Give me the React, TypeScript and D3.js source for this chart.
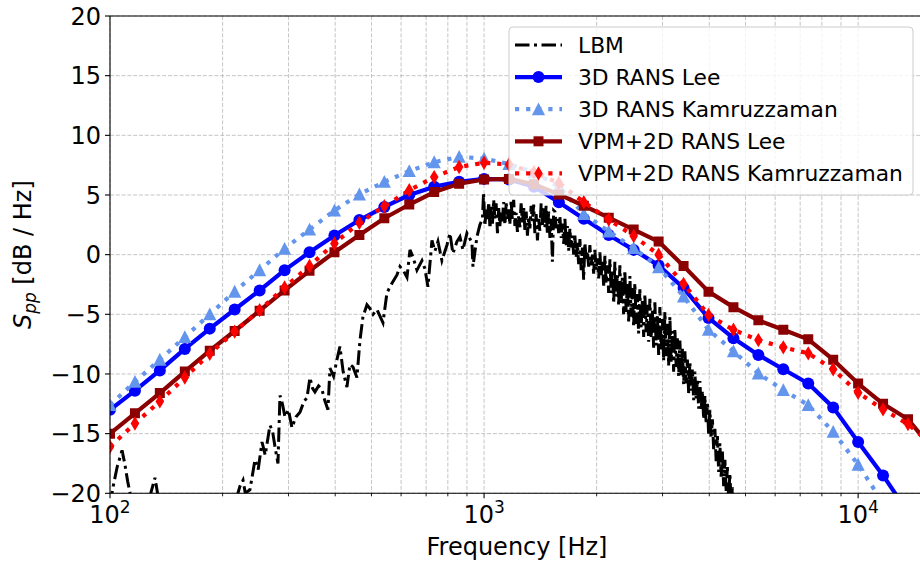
import { Fragment } from "react"
import * as d3 from "d3"

// 1/15-decade band centres used by the model curves
const bandFreq = [
  100, 116.6, 135.9, 158.5, 184.8, 215.4, 251.2, 292.9, 341.5, 398.1, 464.2, 541.2,
  631.0, 735.6, 857.7, 1000, 1165.9, 1359.4, 1584.9, 1847.8, 2154.4, 2511.9, 2928.6,
  3414.5, 3981.1, 4641.6, 5411.7, 6309.6, 7356.4, 8576.9, 10000, 11659, 13594, 15849
]

const rans3dLee = [
  -13.0, -11.4, -9.7, -7.9, -6.2, -4.6, -3.0, -1.3, 0.2, 1.6, 2.9, 4.0, 5.0, 5.7, 6.1,
  6.35, 6.3, 5.7, 4.4, 3.0, 1.65, 0.4, -0.9, -2.8, -5.3, -7.0, -8.4, -9.6, -10.8, -12.8,
  -15.7, -18.5, -21.6, -24.5
]
const rans3dKam = [
  -12.6, -10.65, -8.8, -6.9, -5.0, -3.1, -1.3, 0.5, 2.1, 3.7, 5.05, 6.1, 7.0, 7.75, 8.2,
  8.05, 7.6, 6.9, 5.7, 3.4, 1.95, 0.55, -1.05, -3.5, -6.3, -8.1, -9.95, -11.35, -12.6,
  -14.85, -17.6, -20.8, -24.0, -27.0
]
const vpmLee = [
  -15.0, -13.3, -11.6, -9.8, -8.05, -6.4, -4.7, -3.0, -1.35, 0.2, 1.65, 3.05, 4.2, 5.25,
  5.95, 6.3, 6.35, 5.9, 5.05, 4.1, 3.1, 2.1, 1.1, -0.95, -3.1, -4.4, -5.5, -6.3, -7.1,
  -8.8, -10.8, -12.5, -13.8, -16.3
]
const vpmKam = [
  -16.1, -14.15, -12.3, -10.3, -8.3, -6.45, -4.65, -2.75, -0.95, 0.94, 2.67, 4.05, 5.4,
  6.5, 7.35, 7.7, 7.55, 6.9, 6.0, 4.4, 2.95, 1.56, 0.0, -2.45, -5.05, -6.3, -7.16, -7.77,
  -8.27, -9.6, -11.57, -12.97, -14.2, -16.0
]

// LBM narrow-band spectrum: low band (100 Hz - 1 kHz) ...
const lbmLowFreq = [
  100, 102, 104.5, 107.7, 109.5, 111.5, 114, 118, 124, 128, 131.9, 134, 137, 145, 160, 185,
  205, 215, 222.6, 226.8, 230, 236.7, 244.1, 249, 254.9, 260, 267.7, 272, 276.1, 281.2,
  284.7, 289, 293.6, 300, 306.5, 314, 322, 330, 336.2, 342.4, 348, 353.1, 361, 368.7, 375,
  382.5, 387.3, 396, 404.3, 411.8, 420, 429.9, 438, 446.1, 457.2, 465.8, 474.5, 486.3, 495,
  505, 517.2, 536.7, 550, 567.3, 585, 596, 610, 622.2, 633.8, 645.6, 661.7, 682.3, 695,
  707.9, 725.6, 739, 752.8, 771.5, 795.7, 810.5, 825.6, 846.2, 862, 878, 900, 928.1, 933.9,
  957.2, 974.7
]
const lbmLowDb = [
  -21.0, -19.4, -17.8, -16.4, -17.5, -19.0, -20.5, -22.5, -21.5, -20.2, -18.7, -20.0, -22.0,
  -24.0, -25.0, -24.5, -22.5, -21.0, -19.4, -18.9, -20.0, -19.7, -17.2, -18.0, -15.7, -16.8,
  -14.3, -14.8, -16.1, -17.5, -11.8, -12.5, -13.6, -13.0, -14.5, -13.6, -13.2, -12.3, -12.0,
  -10.3, -11.2, -11.5, -11.0, -11.3, -12.2, -13.0, -9.5, -10.2, -8.8, -7.7, -9.8, -11.1,
  -9.2, -9.4, -10.3, -7.2, -5.2, -4.2, -4.5, -5.0, -4.6, -5.7, -3.2, -2.4, -1.7, -1.0, -1.4,
  -1.9, 0.4, -0.2, -1.3, -0.5, -1.2, -2.7, 1.2, 0.3, 1.1, -0.5, 0.8, 1.8, 0.1, 1.1, 1.5, 0.4,
  1.8, 1.0, -1.0, 1.5, 2.5
]
// ... the peak band (1 - 1.5 kHz) ...
const lbmMidFreq = [
  990, 997, 1005, 1013, 1021, 1029, 1037, 1045, 1053, 1061, 1069, 1077,
  1086, 1094, 1102, 1111, 1119, 1128, 1137, 1146, 1154, 1163, 1172, 1181,
  1190, 1200, 1209, 1218, 1228, 1237, 1247, 1256, 1266, 1276, 1286, 1296,
  1306, 1316, 1326, 1336, 1346, 1357, 1367, 1378, 1389, 1399, 1410, 1421,
  1432, 1443, 1454, 1465, 1477, 1488, 1500, 1511, 1523, 1535
]
const lbmMidDb = [
  3.0, 5.2, 2.4, 3.8, 2.9, 4.4, 2.2, 4.0, 2.6, 4.6, 3.0, 4.3,
  1.8, 3.9, 2.4, 3.7, 2.8, 4.4, 2.5, 4.3, 3.0, 3.8, 2.5, 4.5,
  3.0, 4.6, 2.4, 3.5, 1.9, 3.2, 2.3, 4.3, 2.7, 4.0, 2.0, 3.6,
  1.6, 3.2, 2.2, 4.1, 2.8, 4.2, 1.8, 3.4, 1.2, 3.0, 2.0, 4.3,
  2.5, 3.9, 2.3, 4.1, 1.7, 3.6, 1.4, 3.0, -0.6, 3.7
]
// ... and the dense decaying band (1.5 - 4.8 kHz)
const lbmHighFreq = [
  1547, 1559, 1571, 1583, 1595, 1608, 1620, 1633, 1645, 1658, 1670, 1683,
  1696, 1709, 1722, 1736, 1749, 1763, 1776, 1790, 1804, 1818, 1832, 1846,
  1860, 1875, 1889, 1904, 1918, 1933, 1948, 1963, 1978, 1994, 2009, 2025,
  2040, 2056, 2072, 2088, 2104, 2120, 2137, 2153, 2170, 2187, 2203, 2221,
  2237, 2255, 2272, 2290, 2307, 2325, 2343, 2361, 2379, 2398, 2416, 2435,
  2454, 2473, 2492, 2511, 2530, 2550, 2569, 2589, 2609, 2630, 2650, 2671,
  2691, 2712, 2733, 2754, 2775, 2797, 2818, 2840, 2862, 2884, 2906, 2929,
  2951, 2974, 2997, 3020, 3044, 3067, 3091, 3115, 3139, 3163, 3188, 3212,
  3237, 3262, 3287, 3313, 3338, 3364, 3390, 3416, 3443, 3469, 3496, 3523,
  3550, 3578, 3605, 3633, 3661, 3690, 3718, 3747, 3776, 3805, 3834, 3864,
  3894, 3924, 3954, 3985, 4015, 4046, 4078, 4109, 4141, 4173, 4205, 4238,
  4270, 4303, 4336, 4370, 4404, 4438, 4472, 4506, 4541, 4576, 4611, 4647,
  4683, 4830
]
const lbmHighDb = [
  3.6, 2.2, 3.0, 1.8, 3.2, 1.4, 2.6, 0.9, 3.0, 0.8, 2.4, 0.3,
  2.2, 0.6, 1.6, 0.0, 1.6, -0.2, 1.0, -0.8, 1.3, -1.3, 0.6, -2.1,
  1.0, -0.4, 0.3, -1.0, 0.8, -0.9, 0.0, -1.6, 0.4, -1.3, -0.3, -2.0,
  0.2, -1.8, -0.6, -2.6, -0.1, -2.4, -0.9, -3.2, -0.4, -3.2, -1.3, -4.1,
  -0.6, -3.5, -1.6, -4.3, -0.9, -4.1, -1.9, -5.0, -1.3, -4.8, -2.3, -5.6,
  -1.8, -5.2, -2.8, -6.1, -2.4, -5.8, -3.3, -6.6, -2.9, -6.1, -3.8, -6.9,
  -3.3, -6.5, -4.2, -7.3, -3.7, -7.0, -4.6, -7.8, -4.0, -7.6, -5.0, -8.4,
  -4.4, -8.1, -5.4, -8.9, -4.8, -8.5, -5.8, -9.3, -5.2, -9.0, -6.4, -9.8,
  -6.2, -9.4, -7.0, -10.2, -7.2, -10.1, -7.9, -10.9, -8.1, -10.8, -8.8, -11.6,
  -9.0, -11.4, -9.6, -12.2, -9.8, -12.1, -10.4, -12.9, -10.6, -13.0, -11.4, -13.8,
  -11.8, -14.2, -12.5, -15.1, -13.0, -15.4, -13.8, -16.3, -14.6, -17.3, -15.2, -18.2,
  -15.8, -18.6, -16.5, -19.4, -17.2, -19.8, -17.8, -20.5, -18.3, -21.0, -19.5, -21.5,
  -20.5, -23.0
]

const yTicks = [-20, -15, -10, -5, 0, 5, 10, 15, 20]
const xMajor = [100, 1000, 10000]
const xMinor = [200, 300, 400, 500, 600, 700, 800, 900, 2000, 3000, 4000, 5000, 6000, 7000, 8000, 9000]
const legendLabels = ["LBM", "3D RANS Lee", "3D RANS Kamruzzaman", "VPM+2D RANS Lee", "VPM+2D RANS Kamruzzaman"]

const FONT = "DejaVu Sans, sans-serif"
const LBM_DASH = "14.5 4.5 3 4.5"

function markerPath(kind) {
  if (kind === "circle") return "M6,0A6,6 0 1,1 -6,0A6,6 0 1,1 6,0Z"
  if (kind === "triangle") return "M0,-6.8L6.6,6L-6.6,6Z"
  if (kind === "square") return "M-5,-5H5V5H-5Z"
  if (kind === "diamond") return "M0,-7.2L4.3,0L0,7.2L-4.3,0Z"
  return ""
}

const series = [
  { label: legendLabels[1], values: rans3dLee, color: "#0000ff", dotted: false, marker: "circle" },
  { label: legendLabels[2], values: rans3dKam, color: "#6495ed", dotted: true, marker: "triangle" },
  { label: legendLabels[3], values: vpmLee, color: "#8b0000", dotted: false, marker: "square" },
  { label: legendLabels[4], values: vpmKam, color: "#ff0000", dotted: true, marker: "diamond" }
]

function lineProps(s) {
  return s.dotted
    ? { stroke: s.color, strokeWidth: 4.2, strokeDasharray: "4.2 6.9", fill: "none" }
    : { stroke: s.color, strokeWidth: 4.2, fill: "none", strokeLinejoin: "round" as const }
}

export default function App() {
  const W = 920
  const H = 565
  const left = 110
  const top = 16
  const right = 924
  const bottom = 493.3

  const x = d3.scaleLog().domain([100, 15000]).range([left, right])
  const y = d3.scaleLinear().domain([-20, 20]).range([bottom, top])

  const line = d3.line<[number, number]>().x(d => x(d[0])).y(d => y(d[1]))
  const lbmPoints = [
    ...lbmLowFreq.map((f, i) => [f, lbmLowDb[i]]),
    ...lbmMidFreq.map((f, i) => [f, lbmMidDb[i]]),
    ...lbmHighFreq.map((f, i) => [f, lbmHighDb[i]])
  ]
  const lbmPath = line(lbmPoints)

  const gridStyle = { stroke: "#b0b0b0", strokeWidth: 0.9, strokeDasharray: "4 1.8", opacity: 0.8 }

  const legX = 509
  const legY = 27
  const rowY = (i) => legY + 18 + i * 32.1

  return (
    <svg width={W} height={H} style={{ position: "absolute", left: 0, top: 0, background: "#fff" }}
      fontFamily={FONT}>
      <defs>
        <clipPath id="plotClip">
          <rect x={left} y={top} width={right - left} height={bottom - top} />
        </clipPath>
      </defs>

      {/* grid */}
      {yTicks.map(t => (
        <line key={"gy" + t} x1={left} x2={right} y1={y(t)} y2={y(t)} {...gridStyle} />
      ))}
      {[...xMajor, ...xMinor].map(t => (
        <line key={"gx" + t} x1={x(t)} x2={x(t)} y1={top} y2={bottom} {...gridStyle} />
      ))}

      <g clipPath="url(#plotClip)">
        <path d={lbmPath} stroke="#000" strokeWidth={3} fill="none" strokeDasharray={LBM_DASH} />
        {series.map(s => (
          <g key={s.label}>
            <path d={line(bandFreq.map((f, i) => [f, s.values[i]]))} {...lineProps(s)} />
            {bandFreq.map((f, i) => (
              <path key={i} d={markerPath(s.marker)} fill={s.color}
                transform={`translate(${x(f)},${y(s.values[i])})`} />
            ))}
          </g>
        ))}
      </g>

      {/* spines */}
      <line x1={left} x2={left} y1={top} y2={bottom} stroke="#000" strokeWidth={1.1} />
      <line x1={left} x2={right} y1={bottom} y2={bottom} stroke="#000" strokeWidth={1.1} />
      <line x1={left} x2={right} y1={top} y2={top} stroke="#000" strokeWidth={1.1} />
      <line x1={right} x2={right} y1={top} y2={bottom} stroke="#000" strokeWidth={1.1} />

      {/* y axis */}
      {yTicks.map(t => (
        <Fragment key={"yt" + t}>
          <line x1={left - 5} x2={left} y1={y(t)} y2={y(t)} stroke="#000" strokeWidth={1.1} />
          <text x={left - 9} y={y(t) + 8.6} textAnchor="end" fontSize={24}>
            {t < 0 ? "\u2212" + Math.abs(t) : t}
          </text>
        </Fragment>
      ))}

      {/* x axis */}
      {xMinor.map(t => (
        <line key={"xm" + t} x1={x(t)} x2={x(t)} y1={bottom} y2={bottom + 3} stroke="#000" strokeWidth={0.9} />
      ))}
      {xMajor.map(t => (
        <Fragment key={"xt" + t}>
          <line x1={x(t)} x2={x(t)} y1={bottom} y2={bottom + 5} stroke="#000" strokeWidth={1.1} />
          <text x={x(t)} y={523} textAnchor="middle" fontSize={24}>
            10<tspan fontSize={17} dy={-10}>{Math.round(Math.log10(t))}</tspan>
          </text>
        </Fragment>
      ))}

      <text x={(left + right) / 2} y={555} textAnchor="middle" fontSize={24}>Frequency [Hz]</text>
      <text transform={`translate(31,${(top + bottom) / 2}) rotate(-90)`} textAnchor="middle" fontSize={24}>
        <tspan fontStyle="italic">S</tspan>
        <tspan fontStyle="italic" fontSize={17} dy={5}>pp</tspan>
        <tspan dy={-5}> [dB / Hz]</tspan>
      </text>

      {/* legend */}
      <rect x={legX} y={legY} width={404} height={168} rx={4} fill="#fff" fillOpacity={0.8}
        stroke="#cccccc" strokeWidth={1} />
      {legendLabels.map((lab, i) => {
        const s = series.find(d => d.label === lab)
        const yy = rowY(i)
        return (
          <g key={lab}>
            {i === 0 ? (
              <line x1={515} x2={562} y1={yy} y2={yy} stroke="#000" strokeWidth={3} strokeDasharray={LBM_DASH} />
            ) : (
              <>
                <line x1={515} x2={562} y1={yy} y2={yy} {...lineProps(s)} />
                <path d={markerPath(s.marker)} fill={s.color} transform={`translate(538.5,${yy})`} />
              </>
            )}
            <text x={578} y={yy + 8} fontSize={21.8}>{lab}</text>
          </g>
        )
      })}
    </svg>
  )
}
